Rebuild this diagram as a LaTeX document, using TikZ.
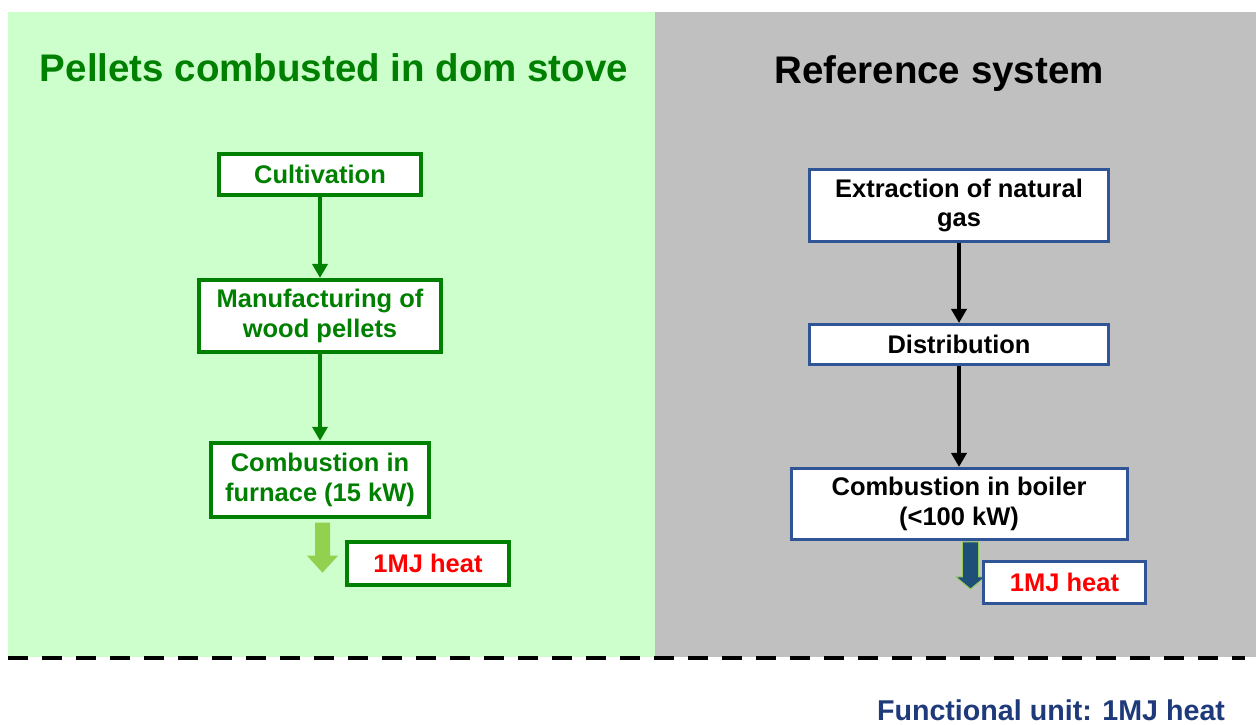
\documentclass[tikz,border=0pt]{standalone}
\usepackage{fontspec}
\setmainfont{Liberation Sans}
\usetikzlibrary{positioning,arrows.meta}
\definecolor{leaf}{HTML}{008000}
\definecolor{leafsoft}{HTML}{CCFFCC}
\definecolor{leafarrow}{HTML}{92D050}
\definecolor{stone}{HTML}{C0C0C0}
\definecolor{navy}{HTML}{2F5597}
\definecolor{navydark}{HTML}{1F4E79}
\definecolor{unitblue}{HTML}{1F3A7A}
\definecolor{heat}{HTML}{FF0000}

\begin{document}
\begin{tikzpicture}[
      stepgreen/.style={draw=leaf, line width=2.2pt, fill=white, text=leaf,
                  align=center, inner sep=2pt,
                  font=\fontsize{14.5}{17}\selectfont\bfseries},
      stepblue/.style={draw=navy, line width=1.7pt, fill=white, text=black,
                  align=center, inner sep=2pt,
                  font=\fontsize{14.5}{17}\selectfont\bfseries},
      heatbox/.style={fill=white, text=heat, align=center, inner sep=2pt,
                  minimum width=3.24cm, minimum height=0.86cm,
                  font=\fontsize{14.5}{17}\selectfont\bfseries},
      flowgreen/.style={-{Triangle[length=2.8mm, width=3mm]}, line width=2.2pt, color=leaf},
      flowblack/.style={-{Triangle[length=2.8mm, width=3mm]}, line width=2.2pt, color=black},
      paneltitle/.style={font=\fontsize{21.9}{24}\selectfont\bfseries},
    ]
      \useasboundingbox (0,0) rectangle (25.12,14.48);
      % panels
      \fill[leafsoft] (0.16,1.34) rectangle (13.1,14.24);
      \fill[stone] (13.1,1.34) rectangle (25.12,14.24);
      \draw[line width=0.08cm, dash pattern=on 0.4cm off 0.28cm] (0.16,1.32) -- (24.9,1.32);

      \node[paneltitle, text=leaf] (ltitle) at (6.68,13.12) {Pellets combusted in dom stove};
      \node[paneltitle, text=black] (rtitle) at (18.78,13.0) {Reference system};

      % pellets chain
      \node[stepgreen, minimum width=4.04cm, minimum height=0.82cm] (cult) at (6.40,10.99) {Cultivation};
      \node[stepgreen, minimum width=4.84cm, minimum height=1.44cm, below=1.62cm of cult] (manu) {Manufacturing of\\wood pellets};
      \node[stepgreen, minimum width=4.36cm, minimum height=1.48cm, below=1.74cm of manu] (furn) {Combustion in\\furnace (15 kW)};
      \node[heatbox, draw=leaf, line width=2.2pt] (lheat) at (8.56,3.21) {1MJ heat};
      \draw[flowgreen] (cult) -- (manu);
      \draw[flowgreen] (manu) -- (furn);
      \coordinate (gtop) at ([xshift=0.05cm, yshift=-0.08cm]furn.south);
      \fill[leafarrow] ([xshift=-0.15cm]gtop) -- ++(0.3,0) -- ++(0,-0.66) -- ++(0.16,0)
        -- ++(-0.31,-0.34) -- ++(-0.31,0.34) -- ++(0.16,0) -- cycle;

      % reference chain
      \node[stepblue, minimum width=5.98cm, minimum height=1.44cm] (extr) at (19.18,10.37) {Extraction of natural\\gas};
      \node[stepblue, minimum width=5.98cm, minimum height=0.8cm, below=1.6cm of extr] (dist) {Distribution};
      \node[stepblue, minimum width=6.72cm, minimum height=1.42cm, below=2.02cm of dist] (boil) {Combustion in boiler\\(<100 kW)};
      \draw[flowblack] (extr) -- (dist);
      \draw[flowblack] (dist) -- (boil);
      \coordinate (btop) at ([xshift=0.23cm, yshift=-0.02cm]boil.south);
      \filldraw[fill=navydark, draw=leafarrow, line width=0.5pt] ([xshift=-0.16cm]btop) -- ++(0.32,0) -- ++(0,-0.70)
        -- ++(0.13,0) -- ++(-0.29,-0.24) -- ++(-0.29,0.24) -- ++(0.13,0) -- cycle;
      \node[heatbox, draw=navy, line width=1.7pt, minimum height=0.84cm] (rheat) at (21.29,2.83) {1MJ heat};

      \node[text=unitblue, font=\fontsize{16.3}{19}\selectfont\bfseries] (unit) at (21.02,0.28) {Functional unit: 1MJ heat};
    \end{tikzpicture}
\end{document}
